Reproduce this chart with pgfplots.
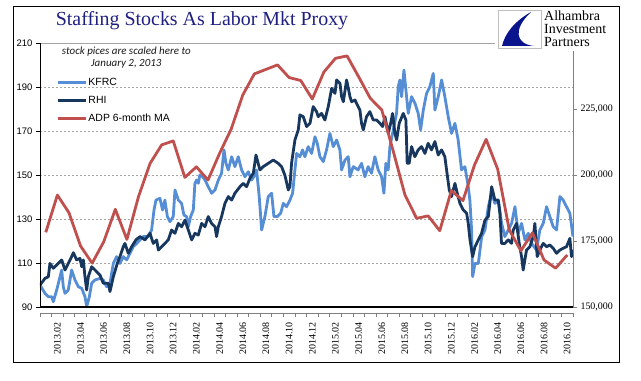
\documentclass[border=0pt]{standalone}
\usepackage{fontspec}
\setmainfont{Liberation Serif}
\setsansfont{Liberation Sans}
\newfontfamily\notefont{Carlito}
\usepackage{pgfplots}
\pgfplotsset{compat=1.18}
\definecolor{kfrc}{RGB}{85,142,213}
\definecolor{rhi}{RGB}{23,55,94}
\definecolor{adp}{RGB}{192,80,77}
\definecolor{titleblue}{RGB}{31,31,130}
\definecolor{gridgray}{RGB}{165,165,165}
\definecolor{axgray}{RGB}{128,128,128}
\definecolor{logoblue}{RGB}{10,20,140}
\begin{document}
\begin{tikzpicture}
\useasboundingbox (0bp,0bp) rectangle (641bp,381bp);
\draw[black,line width=0.9bp] (13bp,19bp) rectangle (619bp,375bp);
\node[anchor=base, text=titleblue, font=\fontsize{20}{24}\selectfont, inner sep=0pt] at (202bp,355bp) {Staffing Stocks As Labor Mkt Proxy};

% date axis (months since Jan 2013)
\begin{axis}[at={(40bp,68bp)}, anchor=south west, scale only axis, width=533bp, height=10bp,
  xmin=0, xmax=46, ymin=0, ymax=1, ytick=\empty, axis line style={draw=none}, clip=false,
  xtick={0,1,...,46}, xticklabels={}, xtick pos=left, tick align=outside,
  major tick length=3.5bp, xtick style={axgray, line width=0.6bp},
  extra x ticks={1.5,3.5,5.5,7.5,9.5,11.5,13.5,15.5,17.5,19.5,21.5,23.5,25.5,27.5,29.5,31.5,33.5,35.5,37.5,39.5,41.5,43.5,45.5},
  extra x tick labels={2013.02,2013.04,2013.06,2013.08,2013.10,2013.12,2014.02,2014.04,2014.06,2014.08,2014.10,2014.12,2015.02,2015.04,2015.06,2015.08,2015.10,2015.12,2016.02,2016.04,2016.06,2016.08,2016.10},
  extra x tick style={major tick length=0pt, tick label style={yshift=-6bp, rotate=90, anchor=east, font=\fontsize{10}{12}\selectfont}},
]
\draw[axgray, line width=0.7bp] (rel axis cs:0,0) -- (rel axis cs:1,0);
\end{axis}

% left axis: stocks
\begin{axis}[at={(40bp,74bp)}, anchor=south west, scale only axis, width=533bp, height=264bp,
  xmin=0, xmax=46, ymin=90, ymax=210, xtick=\empty,
  ytick={90,110,...,210}, ytick pos=left, tick align=outside, major tick length=4bp,
  ytick style={black, line width=0.6bp}, axis line style={draw=none},
  ymajorgrids, grid style={gridgray, dash pattern=on 2bp off 2bp, line width=0.6bp},
  yticklabel style={font=\sffamily\fontsize{9.5}{11}\selectfont},
  /pgf/number format/assume math mode=true,
  clip mode=individual,
  legend style={at={(axis description cs:0.03,0.872)}, anchor=north west, draw=none, fill=none,
    font=\sffamily\fontsize{10.5}{12}\selectfont, row sep=6bp, inner sep=0pt,
    nodes={inner sep=1.5bp}},
  legend cell align=left,
  legend image code/.code={\draw[#1] (0bp,0bp) -- (28bp,0bp);},
]
\draw[gridgray, line width=0.8bp] (rel axis cs:0,1) -- (rel axis cs:1,1);
\addplot[kfrc, line width=2.8bp, line join=round] table {
0 100
0.43 96.2
0.72 94.7
1.01 94.7
1.15 92.4
1.44 97.7
1.73 103.8
1.87 106.8
2.01 99.2
2.16 96.2
2.44 97.7
2.73 106.8
3.02 102.3
3.31 99.2
3.6 98.5
3.88 94.7
4.03 90.2
4.26 94.7
4.46 100.8
4.75 102.3
5.18 103
5.46 102.3
5.75 99.2
6.04 100.8
6.18 105.3
6.33 109.8
6.61 112.9
6.9 109.8
7.19 112.9
7.48 111.4
7.77 114.4
8.05 117.4
8.34 118.9
8.63 120.5
8.92 122
9.35 122
9.63 125
9.84 134.1
10.01 138.6
10.35 139.4
10.58 134.1
10.78 138.6
10.99 131.1
11.22 128.8
11.5 131.1
11.65 143.2
11.94 138.6
12.22 137.1
12.42 131.8
12.65 131.1
12.8 126.5
13 131.1
13.23 134.1
13.37 146.2
13.52 147.7
13.66 146.2
13.8 150
14.03 149.2
14.24 147.7
14.52 144.7
14.81 141.7
15.1 143.2
15.39 147.7
15.67 150.8
15.88 161.4
16.05 155.3
16.25 152.3
16.54 158.3
16.82 153.8
17.11 158.3
17.4 152.3
17.69 149.2
17.98 151.5
18.26 147.7
18.46 149.2
18.69 152.3
18.92 140.2
19.13 125
19.41 131.1
19.7 140.2
19.99 141.7
20.19 131.1
20.48 131.1
20.77 132.6
21 137.1
21.28 135.6
21.57 138.6
21.8 141.7
22 152.3
22.15 159.8
22.43 158.3
22.66 161.4
22.86 158.3
23.15 162.9
23.44 159.8
23.73 167.4
23.93 164.4
24.16 158.3
24.45 156.1
24.73 161.4
25.02 168.9
25.31 162.9
25.6 165.9
25.88 161.4
26.03 152.3
26.32 156.8
26.6 158.3
26.75 149.2
27.03 153.8
27.46 152.3
27.75 155.3
28.04 149.2
28.32 153.8
28.61 150.8
28.9 158.3
29.19 152.3
29.48 149.2
29.68 141.7
29.85 155.3
30.05 152.3
30.2 162.9
30.49 170.5
30.77 178
30.92 190.2
31.06 193.2
31.21 185.6
31.41 197.7
31.58 188.6
31.78 178
32.07 185.6
32.36 182.6
32.64 178
32.85 170.5
33.08 179.5
33.36 187.1
33.65 190.2
33.94 196.2
34.08 179.5
34.37 185.6
34.66 193.2
34.94 185.6
35.23 176.5
35.52 168.9
35.81 173.5
36.09 165.9
36.38 152.3
36.67 153.8
36.96 144.7
37.1 138.6
37.25 125
37.34 103.8
37.54 109.8
37.83 109.8
38.12 122
38.4 125
38.69 135.6
38.98 141.7
39.26 137.1
39.55 138.6
39.84 128
40.12 122
40.41 125
40.7 128
40.99 135.6
41.27 123.5
41.56 128
41.85 120.5
42.14 123.5
42.42 118.9
42.85 115.9
43.14 125
43.43 128
43.72 135.6
44 131.1
44.29 126.5
44.58 125
44.87 140.2
45.15 138.6
45.44 135.6
45.73 132.6
46 122
};
\addlegendentry{KFRC}
\addplot[rhi, line width=2.8bp, line join=round] table {
0 100
0.43 103
0.72 103.8
0.86 109.8
1.15 107.6
1.44 109.1
1.87 111.4
2.16 106.8
2.44 109.8
2.73 112.9
2.88 114.7
3.16 111.4
3.45 112.1
3.6 108.3
3.74 111.4
3.88 103.8
4.03 97.7
4.17 103.8
4.46 108.3
4.75 106.8
5.18 104.5
5.46 100.8
5.9 100.8
6.04 97
6.33 103.8
6.67 109.8
6.9 112.9
7.19 117.4
7.33 118.9
7.62 114.4
7.91 117.4
8.28 120.5
8.63 122
9.06 120.5
9.49 123.5
9.78 118.9
10.07 120.5
10.21 115.9
10.5 117.4
10.78 118.9
11.07 120.5
11.36 125
11.65 123.5
11.94 128
12.22 126.5
12.51 129.5
12.8 125
13.09 120.5
13.37 123.5
13.66 122.7
13.95 128
14.24 126.5
14.52 131.1
14.81 128
15.1 126.5
15.24 122
15.39 126.5
15.67 131.1
15.96 137.1
16.25 140.2
16.54 138.6
16.82 141.7
17.26 144.7
17.54 146.2
17.83 144.7
18.12 148.5
18.41 150.8
18.64 159.1
18.98 152.3
19.27 153.8
19.7 155.3
20.13 156.8
20.56 155.3
20.85 153.8
21.14 149.8
21.43 143.2
21.57 144.7
21.71 155.3
22 165.9
22.29 170.5
22.43 177.3
22.72 176.5
23.01 172
23.3 173.5
23.58 181.1
23.87 178.8
24.01 176.5
24.3 178
24.59 175
24.88 181.1
25.17 189.4
25.46 187.1
25.6 193.2
25.89 191.7
26.03 185.6
26.18 183.3
26.46 193.2
26.61 189.4
26.75 185.6
26.89 183.3
27.18 184.1
27.46 181.1
27.61 179.5
27.75 173.5
27.9 170.5
28.18 176.5
28.47 178.8
28.76 175
29.05 175
29.34 173.5
29.57 172
29.77 176.5
30.06 168.9
30.26 173.5
30.43 178
30.63 168.9
30.78 165.9
31 173.5
31.35 178
31.58 175
31.69 155.3
31.86 155.3
32.07 162.9
32.35 158.3
32.64 161.4
32.93 162.9
33.22 159.8
33.5 164.4
33.79 161.4
34.08 165.2
34.37 159.1
34.66 161.4
34.94 158.3
35.09 152.3
35.32 143.2
35.52 140.2
35.81 146.2
36.01 141.7
36.24 137.1
36.53 134.1
36.82 132.6
36.96 128
37.11 120.5
37.34 112.9
37.54 117.4
37.83 120.5
38.11 123.5
38.4 129.5
38.69 131.1
38.98 144.7
39.26 138.6
39.55 138.6
39.69 132.6
39.83 118.9
40.12 118.9
40.41 120.5
40.7 118.9
40.84 125
41.13 128
41.36 118.9
41.56 112.9
41.7 106.8
41.99 115.9
42.28 117.4
42.57 122
42.71 128
42.91 112.9
43.14 115.9
43.43 118.9
43.72 117.4
44 118.2
44.29 116.7
44.58 114.4
44.87 115.9
45.15 116.7
45.44 117.4
45.73 121.2
45.87 112.9
46 115.9
};
\addlegendentry{RHI}
\addlegendimage{adp, line width=2.8bp}
\addlegendentry{ADP 6-month MA}
\node[font=\notefont\itshape\fontsize{11}{11.8}\selectfont, align=center, text=black!90] at (rel axis cs:0.162,0.945) {stock pices are scaled here to\\January 2, 2013};
\draw[black, line width=0.8bp] (rel axis cs:0,0) -- (rel axis cs:0,1);
\end{axis}

% right axis: ADP
\begin{axis}[at={(40bp,74bp)}, anchor=south west, scale only axis, width=533bp, height=264bp,
  xmin=0, xmax=46, ymin=150000, ymax=250000, xtick=\empty,
  ytick={150000,175000,200000,225000}, ytick pos=right, yticklabel pos=right,
  tick align=outside, major tick length=4bp, ytick style={axgray, line width=0.6bp},
  axis line style={draw=none}, scaled y ticks=false,
  /pgf/number format/assume math mode=true,
  yticklabel style={/pgf/number format/fixed, /pgf/number format/precision=0,
    /pgf/number format/1000 sep={,}, font=\fontsize{10}{12}\selectfont},
  clip mode=individual,
]
\addplot[adp, line width=2.8bp, line join=round] table {
0.5 178300
1.5 192400
2.5 185700
3.5 173100
4.5 166600
5.5 174700
6.5 187000
7.5 175600
8.5 191800
9.5 204400
10.5 211400
11.5 212900
12.5 199100
13.5 203100
14.5 198100
15.5 208200
16.5 217400
17.5 230300
18.5 238300
19.5 240000
20.5 241700
21.5 236900
22.5 235800
23.5 228800
24.5 239000
25.5 244200
26.5 245100
27.5 237200
28.5 229100
29.5 224600
30.5 208800
31.5 192400
32.5 183600
33.5 184500
34.5 178900
35.5 194100
36.5 190300
37.5 203800
38.5 213500
39.5 202200
40.5 179200
41.5 171300
42.5 178100
43.5 167800
44.5 164700
45.5 169700
};
\draw[axgray, line width=0.8bp] (rel axis cs:1,0) -- (rel axis cs:1,1);
\draw[black, line width=1.6bp] (rel axis cs:0,0) -- (rel axis cs:1,0);
\end{axis}

% logo
\fill[white] (495bp,330bp) rectangle (617bp,373bp);
\draw[black!25, fill=white, line width=0.6bp] (498bp,333bp) rectangle (541bp,371bp);
\fill[logoblue] (531bp,369bp) .. controls (515bp,360bp) and (505bp,348bp) .. (502bp,335bp) -- (534bp,335bp) .. controls (515bp,337bp) and (513bp,352bp) .. (531bp,369bp) -- cycle;
\node[anchor=base west, inner sep=0pt, font=\fontsize{14}{14}\selectfont] at (544bp,360bp) {Alhambra};
\node[anchor=base west, inner sep=0pt, font=\fontsize{14}{14}\selectfont] at (544bp,347bp) {Investment};
\node[anchor=base west, inner sep=0pt, font=\fontsize{14}{14}\selectfont] at (544bp,334bp) {Partners};
\end{tikzpicture}
\end{document}
